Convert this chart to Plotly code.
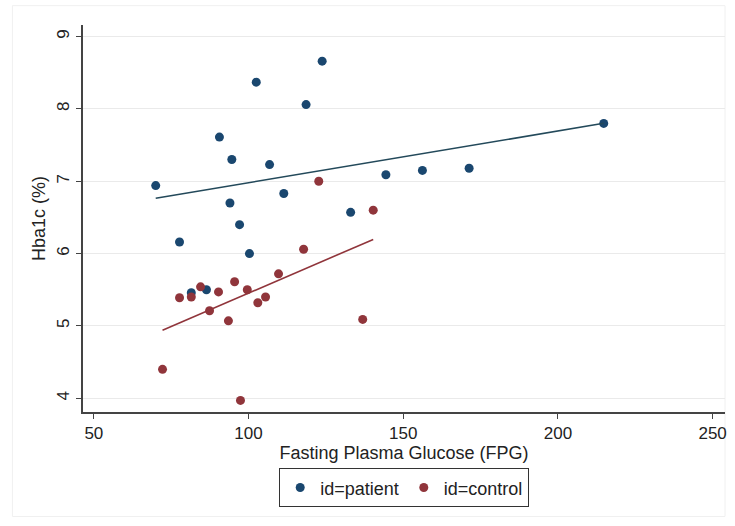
import numpy as np
import plotly.graph_objects as go

# Data
patient_fpg = [70, 77.7, 81.5, 86.4, 90.6, 94, 94.6, 97.1, 100.3, 102.5, 106.8,
               111.4, 118.6, 123.8, 133, 144.4, 156.2, 171.3, 214.8]
patient_hba1c = [6.94, 6.16, 5.46, 5.50, 7.61, 6.70, 7.30, 6.40, 6.00, 8.37, 7.23,
                 6.83, 8.06, 8.66, 6.57, 7.09, 7.15, 7.18, 7.80]

control_fpg = [72.2, 77.7, 81.5, 84.5, 87.4, 90.3, 93.5, 95.5, 97.4, 99.6, 103.0,
               105.5, 109.7, 117.8, 122.7, 136.9, 140.3]
control_hba1c = [4.40, 5.39, 5.40, 5.54, 5.21, 5.47, 5.07, 5.61, 3.97, 5.50, 5.32,
                 5.40, 5.72, 6.06, 7.00, 5.09, 6.60]

# Fitted lines (intercept, slope)
patient_fit = [6.265, 0.00715]
control_fit = [3.609, 0.01844]

x_ticks = [50, 100, 150, 200, 250]
y_ticks = [4, 5, 6, 7, 8, 9]

navy = "#1a476f"
maroon = "#90353b"
font_family = "Liberation Sans, Arial, sans-serif"

fig = go.Figure()

fig.add_trace(go.Scatter(x=patient_fpg, y=patient_hba1c, mode="markers",
                         marker=dict(color=navy, size=9), name="id=patient"))
fig.add_trace(go.Scatter(x=control_fpg, y=control_hba1c, mode="markers",
                         marker=dict(color=maroon, size=9), name="id=control"))

for xs, fit, col in [(patient_fpg, patient_fit, "#23495a"), (control_fpg, control_fit, maroon)]:
    fx = np.array([min(xs), max(xs)])
    fig.add_trace(go.Scatter(x=fx, y=fit[0] + fit[1] * fx, mode="lines",
                             line=dict(color=col, width=1.6), showlegend=False,
                             hoverinfo="skip"))

fig.update_layout(
    width=735, height=526,
    margin=dict(l=83, r=8, t=25, b=114),
    paper_bgcolor="white", plot_bgcolor="white",
    font=dict(family=font_family, size=18, color="#222222"),
    showlegend=True,
    legend=dict(orientation="h", x=0.5, xanchor="center", y=-0.145, yanchor="top",
                bordercolor="#333333", borderwidth=1.2,
                font=dict(size=18, color="#222222"),
                itemwidth=30, tracegroupgap=0),
    xaxis=dict(range=[46.5, 254], tickvals=x_ticks, ticks="outside", ticklen=5,
               tickcolor="#444444", showgrid=False, zeroline=False,
               showline=True, linecolor="#444444", linewidth=1.5,
               tickfont=dict(size=17),
               title=dict(text="Fasting Plasma Glucose (FPG)", standoff=2,
                          font=dict(size=18))),
    yaxis=dict(range=[3.81, 9.16], tickvals=y_ticks, ticks="outside", ticklen=5,
               tickcolor="#444444", tickangle=-90, showgrid=True,
               gridcolor="#eaeaea", gridwidth=1, zeroline=False,
               showline=True, linecolor="#444444", linewidth=1.5,
               tickfont=dict(size=17),
               title=dict(text="Hba1c (%)", standoff=4, font=dict(size=18))),
    shapes=[dict(type="rect", xref="paper", yref="paper", x0=-0.11, x1=1.0,
                 y0=-0.27, y1=1.05, line=dict(color="#f0f0f0", width=1),
                 layer="below")],
)

fig.write_html("out.html")
